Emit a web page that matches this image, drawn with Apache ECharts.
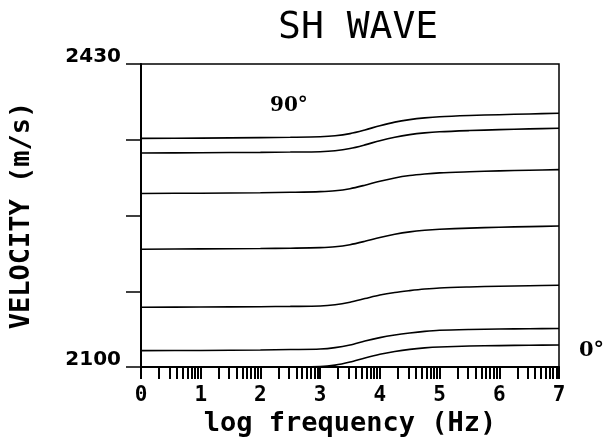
<!DOCTYPE html>
<html>
<head>
<meta charset="utf-8">
<script src="https://cdn.jsdelivr.net/npm/echarts@6/dist/echarts.min.js"></script>
<style>html,body{margin:0;padding:0;background:#fff}#c{width:615px;height:444px}</style>
</head>
<body>
<div id="c"></div>
<script>
// log frequency (Hz) sample positions
const logFreq = [0, 1, 2, 2.5, 3, 3.25, 3.5, 3.75, 4, 4.25, 4.5, 4.75, 5, 5.5, 6, 6.5, 7];
// velocity curves (m/s), top (90°) to bottom (0°)
const curve1 = [2349, 2349.3, 2349.8, 2350.2, 2350.8, 2351.8, 2354.2, 2358.2, 2362.8, 2366.7, 2369.4, 2371.3, 2372.6, 2373.9, 2374.8, 2375.6, 2376.3];
const curve2 = [2333, 2333.3, 2333.8, 2334.1, 2334.5, 2335.5, 2337.9, 2341.9, 2346.5, 2350.3, 2353.1, 2355, 2356.2, 2357.5, 2358.5, 2359.3, 2360];
const curve3 = [2289, 2289.3, 2289.8, 2290.3, 2291, 2291.9, 2294.2, 2298, 2302.3, 2305.9, 2308.5, 2310.2, 2311.4, 2312.6, 2313.6, 2314.3, 2315];
const curve4 = [2228.3, 2228.6, 2229, 2229.4, 2230, 2230.9, 2233.2, 2236.9, 2241.1, 2244.6, 2247.2, 2248.9, 2250, 2251.3, 2252.2, 2252.9, 2253.6];
const curve5 = [2165, 2165.3, 2165.7, 2166, 2166.4, 2167.8, 2170.6, 2174.5, 2178.4, 2181.2, 2183.2, 2184.9, 2186.1, 2187.2, 2188, 2188.5, 2189];
const curve6 = [2117.8, 2118, 2118.5, 2119, 2119.6, 2121.1, 2124, 2128.3, 2132, 2134.8, 2137, 2138.8, 2140, 2140.9, 2141.4, 2141.7, 2142];
const curve7 = [2100, 2100, 2100, 2100.1, 2100.4, 2102, 2105.4, 2109.9, 2113.9, 2116.9, 2119.2, 2120.8, 2121.8, 2122.8, 2123.3, 2123.7, 2124];
const curves = [curve1, curve2, curve3, curve4, curve5, curve6, curve7];

// axis ticks / labels
const xLabelValues = [0, 1, 2, 3, 4, 5, 6, 7];
const decadeMultipliers = [1, 2, 3, 4, 5, 6, 7, 8, 9];
const yTickValues = [2100, 2182.5, 2265, 2347.5, 2430];
const yLabelValues = [2100, 2430];
const topLabel = '90°';
const bottomLabel = '0°';

const xTickValues = [];
for (let d = 0; d < 7; d++) {
  decadeMultipliers.forEach(m => xTickValues.push(d + Math.log10(m)));
}
xTickValues.push(7);

const chart = echarts.init(document.getElementById('c'), null, {renderer: 'canvas'});
const option = {
  animation: false,
  backgroundColor: '#fff',
  title: {
    text: 'SH WAVE',
    left: 278, top: 9, padding: 0,
    textStyle: {fontFamily: 'DejaVu Sans Mono', fontSize: 38, fontWeight: 'normal', color: '#000'}
  },
  grid: {left: 141, right: 56, top: 64, bottom: 77, show: true, borderColor: '#000', borderWidth: 1.5},
  xAxis: {
    type: 'value', min: 0, max: 7,
    name: 'log frequency (Hz)', nameLocation: 'middle', nameGap: 39,
    nameTextStyle: {fontFamily: 'DejaVu Sans Mono', fontWeight: 'bold', fontSize: 27, color: '#000'},
    axisLine: {lineStyle: {color: '#000', width: 2}},
    axisTick: {show: true, length: 12, customValues: xTickValues, lineStyle: {color: '#000', width: 2}},
    axisLabel: {customValues: xLabelValues, margin: 18, fontFamily: 'DejaVu Sans Mono', fontWeight: 'bold', fontSize: 21, color: '#000'},
    splitLine: {show: false}
  },
  yAxis: {
    type: 'value', min: 2100, max: 2430,
    name: 'VELOCITY (m/s)', nameLocation: 'middle', nameGap: 106, nameRotate: 90,
    nameTextStyle: {fontFamily: 'DejaVu Sans Mono', fontWeight: 'bold', fontSize: 27, color: '#000'},
    axisLine: {lineStyle: {color: '#000', width: 2}},
    axisTick: {show: true, length: 15, customValues: yTickValues, lineStyle: {color: '#000', width: 1.5}},
    axisLabel: {customValues: yLabelValues, margin: 20, verticalAlign: 'bottom', lineHeight: 14,
      formatter: v => String(v),
      fontFamily: 'DejaVu Sans', fontWeight: 'bold', fontSize: 20, color: '#000'},
    splitLine: {show: false}
  },
  graphic: [
    {type: 'text', left: 270, top: 96, style: {text: topLabel, font: 'bold 20px "DejaVu Serif"', fill: '#000'}},
    {type: 'text', left: 579, top: 340, style: {text: bottomLabel, font: 'bold 21px "DejaVu Serif"', fill: '#000'}}
  ],
  series: curves.map((c, i) => ({
    type: 'line',
    name: 'curve' + (i + 1),
    data: logFreq.map((x, j) => [x, c[j]]),
    smooth: 0.3,
    showSymbol: false,
    lineStyle: {color: '#000', width: 1.6},
    clip: true
  }))
};
chart.setOption(option);
</script>
</body>
</html>
